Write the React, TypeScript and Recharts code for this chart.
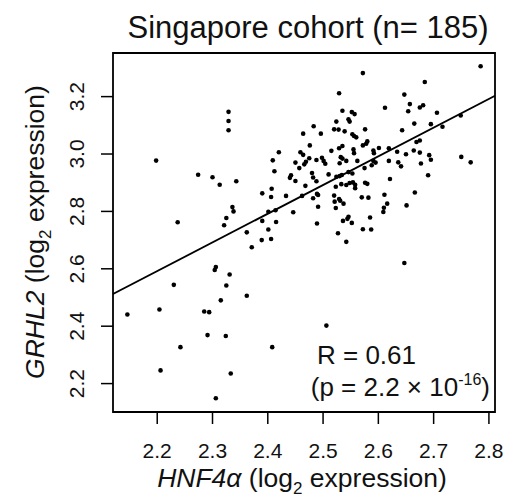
import {
  ScatterChart,
  Scatter,
  XAxis,
  YAxis,
  ReferenceArea,
  ReferenceLine,
} from 'recharts';

// HNF4a (x) and GRHL2 (y), log2 expression
const hnf4a = [
  2.198, 2.329, 2.329, 2.329, 2.274, 2.300, 2.313, 2.343, 2.237, 2.336,
  2.338, 2.325, 2.321, 2.362, 2.371, 2.306, 2.304, 2.331, 2.230, 2.325,
  2.315, 2.362, 2.204, 2.146, 2.285, 2.294, 2.291, 2.324, 2.242, 2.206,
  2.333, 2.306, 2.389, 2.406, 2.390, 2.401, 2.415, 2.401, 2.414, 2.390,
  2.407, 2.406, 2.433, 2.409, 2.412, 2.420, 2.442, 2.440, 2.450, 2.450,
  2.457, 2.446, 2.408, 2.459, 2.464, 2.464, 2.476, 2.475, 2.469, 2.466,
  2.468, 2.462, 2.483, 2.496, 2.498, 2.501, 2.504, 2.480, 2.482, 2.488,
  2.489, 2.491, 2.482, 2.491, 2.489, 2.510, 2.515, 2.520, 2.528, 2.539,
  2.524, 2.535, 2.529, 2.529, 2.535, 2.532, 2.535, 2.542, 2.530, 2.524,
  2.530, 2.533, 2.523, 2.520, 2.521, 2.529, 2.531, 2.537, 2.523, 2.536,
  2.527, 2.506, 2.488, 2.534, 2.546, 2.553, 2.542, 2.548, 2.554, 2.558,
  2.558, 2.546, 2.544, 2.552, 2.542, 2.546, 2.548, 2.552, 2.557, 2.553,
  2.556, 2.560, 2.555, 2.556, 2.562, 2.572, 2.578, 2.580, 2.576, 2.572,
  2.591, 2.592, 2.601, 2.591, 2.595, 2.588, 2.575, 2.576, 2.580, 2.570,
  2.582, 2.585, 2.572, 2.587, 2.612, 2.619, 2.619, 2.621, 2.611, 2.616,
  2.610, 2.609, 2.647, 2.657, 2.654, 2.675, 2.681, 2.684, 2.643, 2.665,
  2.695, 2.716, 2.706, 2.749, 2.785, 2.634, 2.636, 2.641, 2.650, 2.664,
  2.675, 2.669, 2.675, 2.677, 2.692, 2.695, 2.690, 2.666, 2.651, 2.750,
  2.767, 2.647,
];

const grhl2 = [
  2.977, 3.147, 3.115, 3.083, 2.928, 2.919, 2.893, 2.905, 2.762, 2.815,
  2.800, 2.777, 2.752, 2.727, 2.675, 2.606, 2.596, 2.580, 2.544, 2.542,
  2.490, 2.506, 2.458, 2.441, 2.451, 2.449, 2.369, 2.366, 2.327, 2.246,
  2.235, 2.149, 2.700, 2.704, 2.767, 2.737, 2.763, 2.799, 2.804, 2.863,
  2.879, 2.850, 2.854, 2.978, 2.940, 3.006, 2.926, 2.917, 2.906, 2.970,
  2.951, 2.797, 2.327, 3.006, 2.997, 3.071, 3.030, 2.985, 2.973, 2.964,
  2.889, 2.854, 3.097, 3.071, 2.987, 2.976, 2.966, 2.934, 2.918, 2.905,
  2.861, 2.857, 2.846, 2.816, 2.758, 2.929, 3.011, 3.086, 3.085, 3.079,
  3.113, 3.151, 3.212, 3.020, 3.028, 2.989, 2.984, 2.976, 2.968, 2.921,
  2.923, 2.895, 2.886, 2.855, 2.834, 2.843, 2.837, 2.827, 2.812, 2.767,
  2.724, 2.402, 2.979, 2.927, 2.937, 2.932, 2.892, 2.899, 2.901, 2.893,
  2.881, 2.781, 2.774, 2.760, 2.694, 3.121, 3.113, 3.146, 3.139, 3.069,
  3.063, 3.058, 3.016, 3.003, 2.976, 3.030, 3.036, 3.044, 3.086, 3.282,
  3.012, 3.003, 3.021, 2.976, 2.970, 2.961, 2.951, 2.900, 2.896, 2.849,
  2.848, 2.779, 2.738, 2.737, 3.161, 3.020, 2.976, 2.913, 2.858, 2.827,
  2.813, 2.798, 3.207, 3.174, 3.149, 3.162, 3.170, 3.251, 3.083, 3.106,
  3.104, 3.095, 3.144, 3.134, 3.306, 3.008, 2.971, 2.957, 2.999, 3.012,
  3.005, 3.042, 3.047, 2.967, 2.996, 2.980, 2.926, 2.866, 2.821, 2.990,
  2.971, 2.620,
];

const xTicks = [2.2, 2.3, 2.4, 2.5, 2.6, 2.7, 2.8];
const yTicks = [2.2, 2.4, 2.6, 2.8, 3.0, 3.2];

const xDomain: [number, number] = [2.12, 2.811];
const yDomain: [number, number] = [2.101, 3.352];

// least-squares fit as drawn in the figure
const fitSlope = 1.0;
const fitIntercept = 0.392;

const points = hnf4a.map((x, i) => ({ x, y: grhl2[i] }));

const FONT = '"Liberation Sans", Arial, Helvetica, sans-serif';
const INK = '#111';

function XTick({ x, y, payload }: any) {
  return (
    <text x={x} y={y + 32} textAnchor="middle" fontSize={21} fontFamily={FONT} fill={INK}>
      {payload.value.toFixed(1)}
    </text>
  );
}

function YTick({ x, y, payload }: any) {
  const bx = x - 15;
  return (
    <text
      x={bx}
      y={y}
      transform={`rotate(-90, ${bx}, ${y})`}
      textAnchor="middle"
      fontSize={21}
      fontFamily={FONT}
      fill={INK}
    >
      {payload.value.toFixed(1)}
    </text>
  );
}

function Dot({ cx, cy }: any) {
  return <circle cx={cx} cy={cy} r={2.3} fill="#000" />;
}

export default function App() {
  return (
    <div style={{ position: 'absolute', left: 0, top: 0, background: '#fff' }}>
      <ScatterChart
        width={519}
        height={497}
        margin={{ top: 53, right: 24, bottom: 25, left: 53 }}
      >
        <XAxis
          type="number"
          dataKey="x"
          domain={xDomain}
          ticks={xTicks}
          allowDataOverflow
          axisLine={false}
          tickSize={12}
          tickLine={{ stroke: '#000', strokeWidth: 1.5 }}
          tick={<XTick />}
          height={60}
        />
        <YAxis
          type="number"
          dataKey="y"
          domain={yDomain}
          ticks={yTicks}
          allowDataOverflow
          axisLine={false}
          tickSize={12}
          tickLine={{ stroke: '#000', strokeWidth: 1.5 }}
          tick={<YTick />}
          width={60}
        />
        <ReferenceArea
          x1={xDomain[0]}
          x2={xDomain[1]}
          y1={yDomain[0]}
          y2={yDomain[1]}
          fill="none"
          stroke="#000"
          strokeWidth={1.8}
          fillOpacity={0}
        />
        <ReferenceLine
          segment={[
            { x: xDomain[0], y: fitIntercept + fitSlope * xDomain[0] },
            { x: xDomain[1], y: fitIntercept + fitSlope * xDomain[1] },
          ]}
          stroke="#000"
          strokeWidth={1.8}
          ifOverflow="hidden"
        />
        <Scatter data={points} shape={<Dot />} isAnimationActive={false} />

        <text x={308} y={38} textAnchor="middle" fontSize={31} fontFamily={FONT} fill={INK}>
          Singapore cohort (n= 185)
        </text>
        <text x={302} y={487} textAnchor="middle" fontSize={26.5} fontFamily={FONT} fill={INK}>
          <tspan fontStyle="italic">HNF4α</tspan> (log
          <tspan fontSize={17} dy={7}>2</tspan>
          <tspan dy={-7}> expression)</tspan>
        </text>
        <text
          x={44}
          y={232}
          transform="rotate(-90, 44, 232)"
          textAnchor="middle"
          fontSize={26.5}
          fontFamily={FONT}
          fill={INK}
        >
          <tspan fontStyle="italic">GRHL2</tspan> (log
          <tspan fontSize={17} dy={7}>2</tspan>
          <tspan dy={-7}> expression)</tspan>
        </text>
        <text x={317} y={364} fontSize={26} fontFamily={FONT} fill={INK}>
          R = 0.61
        </text>
        <text x={490} y={396} textAnchor="end" fontSize={26} fontFamily={FONT} fill={INK}>
          (p = 2.2 × 10
          <tspan fontSize={16} dy={-11}>-16</tspan>
          <tspan dy={11}>)</tspan>
        </text>
      </ScatterChart>
    </div>
  );
}
